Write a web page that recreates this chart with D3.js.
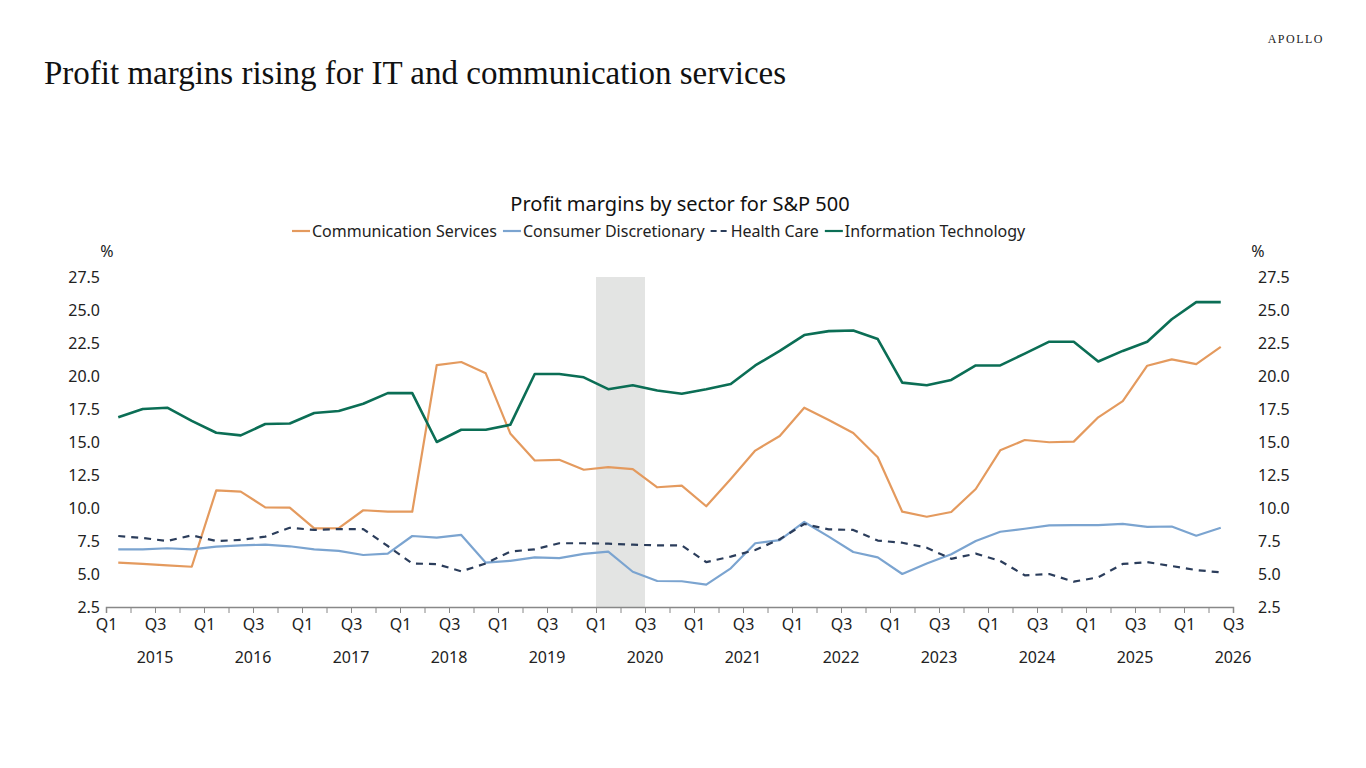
<!DOCTYPE html>
<html><head><meta charset="utf-8">
<script src="https://cdn.jsdelivr.net/npm/d3@7/dist/d3.min.js"></script>
<style>body{margin:0;background:#fff}</style>
</head><body><svg id="c" width="1366" height="768"></svg>
<script>
const seriesNames = ["Communication Services","Consumer Discretionary","Health Care","Information Technology"];
const colors = ["#E49A5E","#7BA4D0","#2B3D5B","#0B6E55"];
const commServices = [5.86,5.76,5.66,5.55,11.34,11.24,10.05,10.03,8.46,8.48,9.83,9.72,9.72,20.83,21.06,20.2,15.65,13.6,13.65,12.9,13.1,12.95,11.57,11.7,10.13,12.2,14.35,15.45,17.6,16.67,15.68,13.85,9.72,9.34,9.7,11.44,14.37,15.15,14.98,15.03,16.87,18.1,20.78,21.26,20.9,22.2];
const consDisc = [6.87,6.87,6.95,6.87,7.07,7.17,7.22,7.1,6.87,6.75,6.44,6.54,7.88,7.76,7.96,5.86,6.0,6.26,6.2,6.52,6.7,5.17,4.47,4.45,4.2,5.43,7.33,7.56,8.94,7.83,6.67,6.26,5.0,5.8,6.5,7.5,8.2,8.43,8.69,8.7,8.7,8.8,8.57,8.6,7.9,8.5];
const healthCare = [7.88,7.73,7.5,7.93,7.5,7.58,7.83,8.5,8.34,8.4,8.4,7.12,5.8,5.75,5.2,5.8,6.7,6.87,7.33,7.33,7.3,7.22,7.17,7.17,5.9,6.32,6.82,7.63,8.79,8.38,8.34,7.53,7.37,6.99,6.15,6.54,5.99,4.9,5.0,4.42,4.75,5.76,5.9,5.6,5.3,5.12];
const infoTech = [16.87,17.5,17.6,16.6,15.7,15.5,16.36,16.4,17.2,17.35,17.9,18.7,18.7,15.0,15.93,15.93,16.3,20.15,20.15,19.9,19.0,19.3,18.9,18.65,19.0,19.4,20.8,21.9,23.1,23.4,23.45,22.8,19.5,19.3,19.7,20.8,20.8,21.7,22.6,22.6,21.1,21.9,22.6,24.3,25.6,25.6];
const yTicks = [2.5,5,7.5,10,12.5,15,17.5,20,22.5,25,27.5];
const years = [2015,2016,2017,2018,2019,2020,2021,2022,2023,2024,2025,2026];
const recession = [20, 22]; // quarter index start/end (Q1 2020 - Q3 2020)

const svg = d3.select("#c");
const F = "'Noto Sans', sans-serif";
svg.append("text").attr("x",44).attr("y",84).attr("font-family","'Liberation Serif', serif").attr("font-size",33).attr("fill","#111").text("Profit margins rising for IT and communication services");
svg.append("text").attr("x",1324).attr("y",43).attr("text-anchor","end").attr("font-family","'Liberation Serif', serif").attr("font-size",12).attr("letter-spacing",1.5).attr("fill","#222").text("APOLLO");

const x0 = 106, x1 = 1233;
const nQ = 46;
const x = d3.scaleLinear().domain([0,nQ]).range([x0,x1]);
const y = d3.scaleLinear().domain([2.5,27.5]).range([607,277]);

svg.append("rect").attr("x",x(recession[0])).attr("y",y(27.5)).attr("width",x(recession[1])-x(recession[0])).attr("height",y(2.5)-y(27.5)).attr("fill","#e3e4e3");

svg.append("text").attr("x",680).attr("y",211).attr("text-anchor","middle").attr("font-family",F).attr("font-size",20).attr("fill","#111").text("Profit margins by sector for S&P 500");

// legend
const lg = svg.append("g").attr("font-family",F).attr("font-size",16).attr("fill","#222");
let lx = 292;
seriesNames.forEach((n,i)=>{
  const g = lg.append("g");
  g.append("line").attr("x1",lx).attr("x2",lx+18).attr("y1",231).attr("y2",231).attr("stroke",colors[i]).attr("stroke-width",2.2).attr("stroke-dasharray",i===2?"6,4":null);
  const t = g.append("text").attr("x",lx+20).attr("y",237).text(n);
  lx += 20 + t.node().getComputedTextLength() + 6;
});

// y axes
const yl = d3.axisLeft(y).tickValues(yTicks).tickFormat(d3.format(".1f")).tickSize(0).tickPadding(6);
const yr = d3.axisRight(y).tickValues(yTicks).tickFormat(d3.format(".1f")).tickSize(0).tickPadding(25);
const gl = svg.append("g").attr("transform",`translate(${x0},0)`).call(yl);
const gr = svg.append("g").attr("transform",`translate(${x1},0)`).call(yr);
[gl,gr].forEach(g=>{g.select(".domain").remove();g.selectAll("text").attr("font-family",F).attr("font-size",16).attr("fill","#222");});
svg.append("text").attr("x",107).attr("y",257).attr("text-anchor","middle").attr("font-family",F).attr("font-size",16).attr("fill","#222").text("%");
svg.append("text").attr("x",1258).attr("y",257).attr("text-anchor","middle").attr("font-family",F).attr("font-size",16).attr("fill","#222").text("%");

// x axis
const xa = d3.axisBottom(x).tickValues(d3.range(0,nQ+1)).tickSize(6)
  .tickFormat(d=> d%4===0?"Q1":(d%4===2?"Q3":""));
const gx = svg.append("g").attr("transform",`translate(0,${y(2.5)})`).call(xa);
gx.select(".domain").attr("stroke","#888").attr("stroke-width",1.5);
gx.selectAll("line").attr("stroke","#888");
gx.selectAll("text").attr("font-family",F).attr("font-size",16).attr("fill","#222").attr("dy","0.9em");
svg.append("g").selectAll("text").data(years).join("text")
  .attr("x",(d,i)=>x(i*4+2)).attr("y",663).attr("text-anchor","middle")
  .attr("font-family",F).attr("font-size",16).attr("fill","#222").text(d=>d);

const line = d3.line().x((d,i)=>x(i+0.5)).y(d=>y(d));
[commServices,consDisc,healthCare,infoTech].forEach((s,i)=>{
  svg.append("path").datum(s).attr("d",line).attr("fill","none").attr("stroke",colors[i])
    .attr("stroke-width",i===3?2.6:2.2).attr("stroke-dasharray",i===2?"7,6":null).attr("stroke-linejoin","round");
});
</script></body></html>
